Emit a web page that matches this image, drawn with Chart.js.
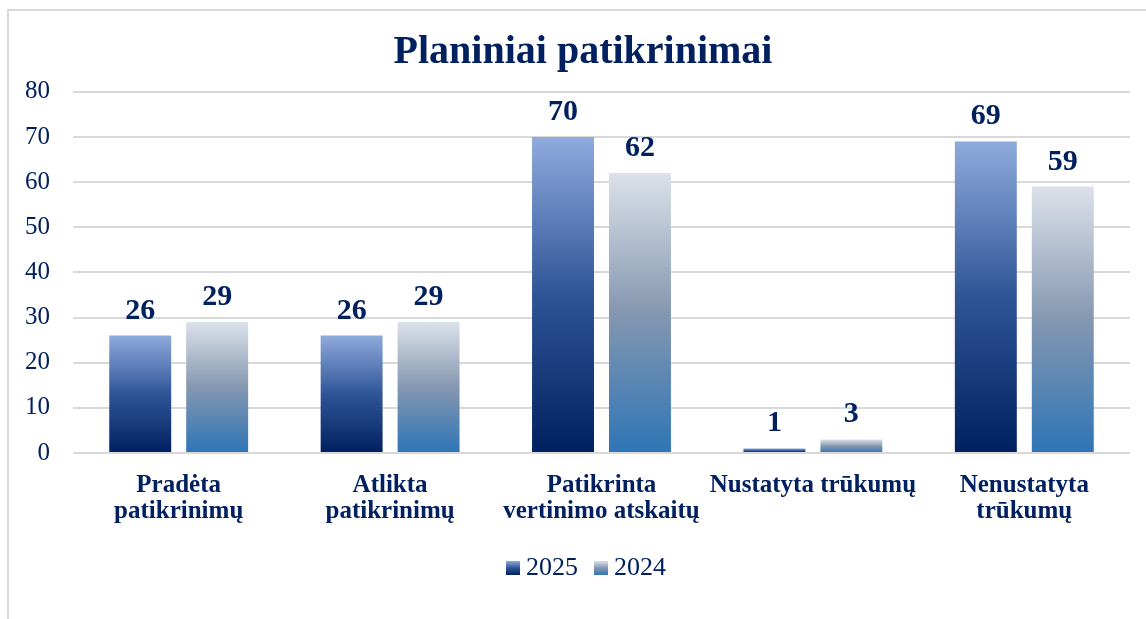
<!DOCTYPE html>
<html>
<head>
<meta charset="utf-8">
<script src="https://cdn.jsdelivr.net/npm/chart.js@4.4.1/dist/chart.umd.min.js"></script>
<style>
  html, body { margin: 0; padding: 0; background: #fff; }
  #wrap { position: relative; width: 1146px; height: 619px; overflow: hidden; }
  #frame { position: absolute; left: 7px; top: 9px; width: 1200px; height: 700px; border: 2px solid #d9d9d9; box-sizing: border-box; }
  #chart { position: absolute; left: 0; top: 0; }
</style>
</head>
<body>
<div id="wrap">
  <div id="frame"></div>
  <canvas id="chart" width="1146" height="619"></canvas>
</div>
<script>
// Duomenys
const categories = [
  ['Pradėta', 'patikrinimų'],
  ['Atlikta', 'patikrinimų'],
  ['Patikrinta', 'vertinimo atskaitų'],
  'Nustatyta trūkumų',
  ['Nenustatyta', 'trūkumų']
];
const values2025 = [26, 26, 70, 1, 69];
const values2024 = [29, 29, 62, 3, 59];
const yTicks = [0, 10, 20, 30, 40, 50, 60, 70, 80];

const navy = '#002060';
const serif = "'Liberation Serif', 'DejaVu Serif', serif";

const stops2025 = [[0, '#8faadc'], [0.5, '#2f5597'], [1, '#002060']];
const stops2024 = [[0, '#dce1ea'], [0.5, '#8497b0'], [1, '#2e75b6']];

function makeGradient(ctx2d, top, bottom, stops) {
  const g = ctx2d.createLinearGradient(0, top, 0, bottom);
  stops.forEach(([o, c]) => g.addColorStop(o, c));
  return g;
}

// gradientas kiekvienam stulpeliui atskirai
function barFill(stops) {
  return (context) => {
    const chart = context.chart;
    if (!chart.chartArea || context.type !== 'data') return stops[stops.length - 1][1];
    const y = chart.scales.y;
    const top = y.getPixelForValue(context.raw);
    const bottom = y.getPixelForValue(0);
    if (!isFinite(top) || !isFinite(bottom) || top === bottom) return stops[stops.length - 1][1];
    return makeGradient(chart.ctx, top, bottom, stops);
  };
}

// reikšmės virš stulpelių
const valueLabels = {
  id: 'valueLabels',
  afterDatasetsDraw(chart) {
    const ctx = chart.ctx;
    ctx.save();
    ctx.font = "bold 30px " + serif;
    ctx.fillStyle = navy;
    ctx.textAlign = 'center';
    ctx.textBaseline = 'alphabetic';
    chart.data.datasets.forEach((ds, i) => {
      chart.getDatasetMeta(i).data.forEach((bar, j) => {
        ctx.fillText(String(ds.data[j]), bar.x, bar.y - 17);
      });
    });
    ctx.restore();
  }
};

// pavadinimas ir legenda centruojami kiek dešiniau, kaip Excel'yje
const shiftBoxes = {
  id: 'shiftBoxes',
  afterLayout(chart) {
    const t = chart.titleBlock;
    if (t) { t.left += 10; t.right += 10; }
    const l = chart.legend;
    if (l) { l.left += 13; l.right += 13; }
  }
};

// legendos kvadratėliai su gradientu (piešiami patys, kad tarpas iki teksto būtų mažesnis)
const legendBoxes = {
  id: 'legendBoxes',
  beforeDraw(chart) {
    const legend = chart.legend;
    if (!legend || !legend.legendItems) return;
    legend.legendItems.forEach(item => {
      item.fillStyle = 'rgba(0,0,0,0)';
      item.strokeStyle = 'rgba(0,0,0,0)';
      item.lineWidth = 0;
    });
  },
  afterDraw(chart) {
    const legend = chart.legend;
    if (!legend || !legend.legendHitBoxes) return;
    const ctx = chart.ctx;
    const box = 14;
    legend.legendHitBoxes.forEach((hb, i) => {
      const mid = hb.top + hb.height / 2;
      const stops = i === 0 ? stops2025 : stops2024;
      ctx.fillStyle = makeGradient(ctx, mid - box / 2, mid + box / 2, stops);
      ctx.fillRect(hb.left, mid - box / 2, box, box);
    });
  }
};

new Chart(document.getElementById('chart'), {
  type: 'bar',
  data: {
    labels: categories,
    datasets: [
      { label: '2025', data: values2025, backgroundColor: barFill(stops2025), categoryPercentage: 0.728, barPercentage: 0.805 },
      { label: '2024', data: values2024, backgroundColor: barFill(stops2024), categoryPercentage: 0.728, barPercentage: 0.805 }
    ]
  },
  options: {
    responsive: false,
    animation: false,
    layout: { padding: { top: 29, bottom: 28, left: 16, right: 16 } },
    plugins: {
      title: {
        display: true,
        text: 'Planiniai patikrinimai',
        color: navy,
        font: { family: serif, size: 40, weight: 'bold', lineHeight: 1.17 },
        padding: { top: 0, bottom: 16 }
      },
      legend: {
        position: 'bottom',
        labels: {
          color: navy,
          font: { family: serif, size: 26 },
          boxWidth: 7,
          boxHeight: 14,
          padding: 16
        },
        onClick: null
      },
      tooltip: { enabled: false }
    },
    scales: {
      x: {
        grid: { display: false },
        border: { display: false },
        ticks: {
          color: navy,
          font: { family: serif, size: 25, weight: 'bold', lineHeight: 1.06 },
          maxRotation: 0,
          autoSkip: false,
          padding: 11
        },
        afterFit(scale) { scale.height = 86; }
      },
      y: {
        min: 0,
        max: 80,
        afterBuildTicks(scale) { scale.ticks = yTicks.map(v => ({ value: v })); },
        grid: { color: '#d9d9d9', lineWidth: 2, drawTicks: false },
        border: { display: false },
        ticks: {
          color: navy,
          font: { family: serif, size: 25 },
          padding: 23
        },
        afterFit(scale) { scale.width = 57; }
      }
    }
  },
  plugins: [valueLabels, shiftBoxes, legendBoxes]
});
</script>
</body>
</html>
